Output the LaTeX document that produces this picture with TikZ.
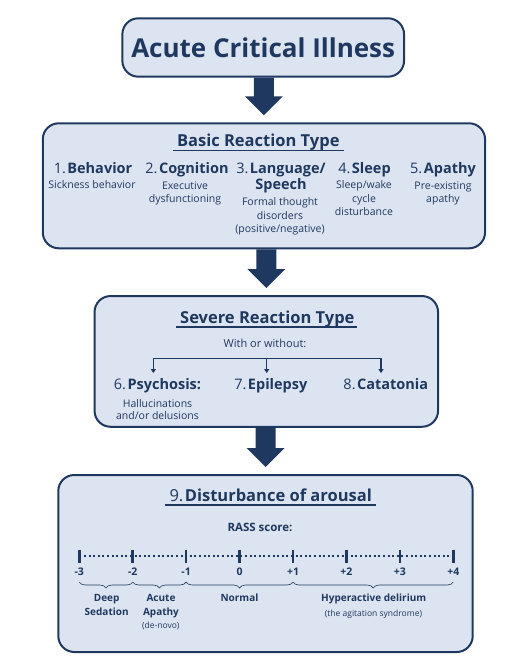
\documentclass[tikz,border=0pt]{standalone}
\usepackage{fontspec}
\setmainfont{Open Sans}
\usetikzlibrary{calc,arrows.meta,decorations.pathreplacing}
\definecolor{navy}{RGB}{31,56,96}
\definecolor{paleblue}{RGB}{221,228,241}
\tikzset{
  box/.style={draw=navy, fill=paleblue, line width=2pt, rounded corners=16pt, inner sep=0pt},
  heading/.style={text=navy, font=\fontsize{16.5}{20}\selectfont, anchor=base, inner sep=0pt},
  item/.style={text=navy, font=\fontsize{14.5}{16}\selectfont, align=center, anchor=base, inner sep=0pt},
  note/.style={text=navy, font=\fontsize{10.5}{13.3}\selectfont, align=center, anchor=base, inner sep=0pt},
  tiny/.style={text=navy, font=\fontsize{8.5}{11}\selectfont, anchor=base, inner sep=0pt},
  scalenum/.style={text=navy, font=\bfseries\fontsize{10.5}{13.6}\selectfont, align=center, anchor=base, inner sep=0pt},
  uline/.style={draw=navy, line width=1.6pt},
  branch/.style={draw=navy, line width=1.3pt},
  tickmark/.style={draw=navy, line width=2.6pt},
  dotline/.style={draw=navy, line width=2pt, dash pattern=on 2pt off 2.6pt},
  bracestyle/.style={draw=navy, line width=0.6pt, decorate, decoration={brace, mirror, amplitude=6pt}},
}
\newcommand\nr[1]{#1.\kern1.5pt}
% thick block arrow from the bottom of #1 to the top of #2
\newcommand\blockarrow[2]{%
  \fill[navy] ($(#1.south -| #2.north)+(-10,0)$) -- ($(#2.north)+(-10,-26)$) -- ($(#2.north)+(-19,-26)$)
    -- ($(#2.north)+(0,-7)$) -- ($(#2.north)+(19,-26)$) -- ($(#2.north)+(10,-26)$)
    -- ($(#1.south -| #2.north)+(10,0)$) -- cycle;}

\begin{document}
\begin{tikzpicture}[x=1pt, y=-1pt]
\useasboundingbox (0,0) rectangle (519,660);

\node[box, minimum width=281.7pt, minimum height=58.4pt, text=navy,
      font=\bfseries\fontsize{26}{30}\selectfont] (acute) at (263.2,47.5) {Acute Critical Illness};

% basic reaction type (multi-line texts sit on the baseline of their last line)
\node[box, minimum width=442.3pt, minimum height=125pt] (basic) at (263.9,185.8) {};
\node[heading] (basictitle) at (258.3,146.7) {\textbf{Basic Reaction Type}};
\draw[uline] ($(basictitle.base west)+(-4,4)$) -- ($(basictitle.base east)+(4,4)$);
\node[item] (behav) at (93,173.3) {\nr{1}\textbf{Behavior}};
\node[item] (cogn) at (187,173.3) {\nr{2}\textbf{Cognition}};
\node[item] (lang) at (281,189.3) {\nr{3}\textbf{Language/}\\\textbf{Speech}};
\node[item] (sleep) at (364.5,173.3) {\nr{4}\textbf{Sleep}};
\node[item] (apathy) at (443,173.3) {\nr{5}\textbf{Apathy}};
\node[note] (behavnote) at (92,189) {Sickness behavior};
\node[note] (cognnote) at (185,202.3) {Executive\\dysfunctioning};
\node[note] (langnote) at (280,232.3) {Formal thought\\disorders\\(positive/negative)};
\node[note] (sleepnote) at (364,215.6) {Sleep/wake\\cycle\\disturbance};
\node[note] (apathynote) at (443,202.3) {Pre-existing\\apathy};

% severe reaction type
\node[box, minimum width=343.5pt, minimum height=130.7pt] (severe) at (266.3,361.4) {};
\node[heading] (severetitle) at (267.3,323.3) {\textbf{Severe Reaction Type}};
\draw[uline] ($(severetitle.base west)+(-4,3.6)$) -- ($(severetitle.base east)+(2,3.6)$);
\node[note, font=\fontsize{11}{13.5}\selectfont] (with) at (265,347.3) {With or without:};
\node[item] (psych) at (157.5,389.3) {\nr{6}\textbf{Psychosis:}};
\node[item] (epi) at (270.8,389.3) {\nr{7}\textbf{Epilepsy}};
\node[item] (cata) at (385.8,389.3) {\nr{8}\textbf{Catatonia}};
\node[note, font=\fontsize{10.5}{12.7}\selectfont] (psychnote) at (157.5,419.7) {Hallucinations\\and/or delusions};
\coordinate (b1) at (153.3,358.3);
\coordinate (b2) at (266.7,358.3);
\coordinate (b3) at (381,358.3);
\draw[branch] (b1) -- (b3);
\foreach \b/\n in {b1/psych, b2/epi, b3/cata}
  \draw[branch, -{Triangle[width=5pt,length=4pt]}, shorten >=5pt] (\b) -- (\b |- \n.north);

% disturbance of arousal
\node[box, minimum width=414.4pt, minimum height=177pt] (arousal) at (265.5,563.5) {};
\node[heading] (arousaltitle) at (270.7,501.7) {\nr{9}\textbf{Disturbance of arousal}};
\draw[uline] ($(arousaltitle.base west)+(-4,3)$) -- ($(arousaltitle.base east)+(4,3)$);
\node[scalenum, font=\bfseries\fontsize{11.5}{14}\selectfont] (rass) at (260,531.7) {RASS score:};
\foreach \v [count=\i from 0] in {-3,-2,-1,0,+1,+2,+3,+4} {
  \coordinate (t\i) at ({79.3+53.43*\i},556);
  \node[scalenum] (n\i) at ({79.3+53.43*\i},575) {\v};
}
\draw[dotline] (t0) -- (t7);
\foreach \i in {0,...,7}
  \draw[tickmark] ($(t\i)+(0,-6.5)$) -- ($(t\i)+(0,6.5)$);
\draw[bracestyle] ($(t0)+(0,26)$) -- ($(t1)+(0,26)$);
\draw[bracestyle] ($(t1)+(0,26)$) -- ($(t2)+(0,26)$);
\draw[bracestyle] ($(t2)+(0,26)$) -- ($(t4)+(0,26)$);
\draw[bracestyle] ($(t4)+(0,26)$) -- ($(t7)+(0,26)$);
\node[scalenum, font=\bfseries\fontsize{10}{13.6}\selectfont] (deep) at (106.7,615.3) {Deep\\Sedation};
\node[scalenum, font=\bfseries\fontsize{10}{13.6}\selectfont] (acuteapathy) at (161,615.3) {Acute\\Apathy};
\node[tiny] (denovo) at (160.8,628.3) {(de-novo)};
\node[scalenum, font=\bfseries\fontsize{10}{13.6}\selectfont] (normal) at (239.5,601.7) {Normal};
\node[scalenum, font=\bfseries\fontsize{10}{13.6}\selectfont] (hyper) at (373.7,601.7) {Hyperactive delirium};
\node[tiny] (agitation) at (373.5,616.7) {(the agitation syndrome)};

\blockarrow{acute}{basic}
\blockarrow{basic}{severe}
\blockarrow{severe}{arousal}
\end{tikzpicture}
\end{document}
